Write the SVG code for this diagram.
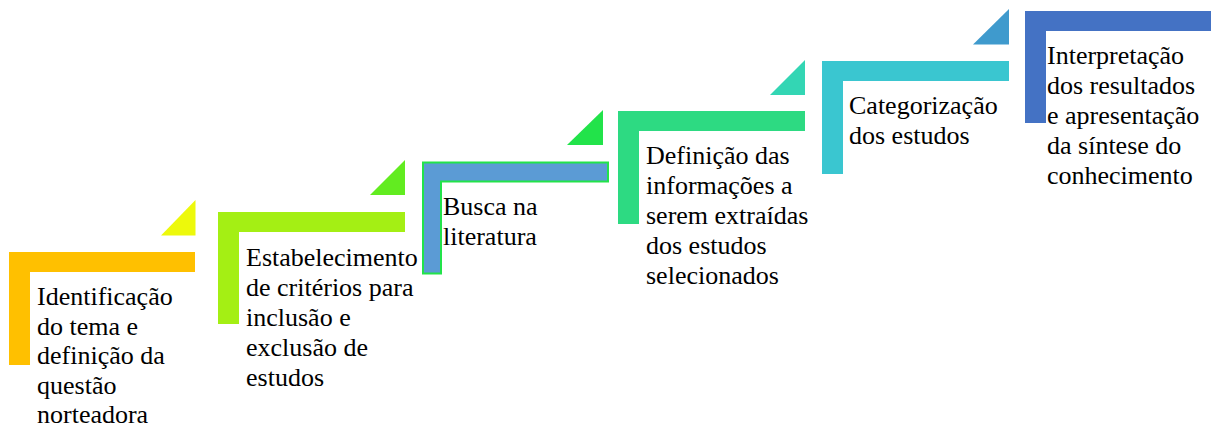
<svg xmlns="http://www.w3.org/2000/svg" width="1211" height="429" viewBox="0 0 1211 429">
<style>
.t { font-family: 'Liberation Serif', 'Times New Roman', Times, 'DejaVu Serif', serif; font-size: 26px; fill: #000; }
</style>
<rect width="1211" height="429" fill="#fff"/>
<g id="step1">
  <path d="M9 252 H195 V272 H30 V365 H9 Z" fill="#FFC000"/>
  <path d="M161 235.5 L195.5 200 V235.5 Z" fill="#EDF90B"/>
  <text class="t" font-family="Liberation Serif, serif" x="37" y="305"><tspan x="37">Identificação</tspan><tspan x="37" dy="29.5">do tema e</tspan><tspan x="37" dy="29.5">definição da</tspan><tspan x="37" dy="29.5">questão</tspan><tspan x="37" dy="29.5">norteadora</tspan></text>
</g>
<g id="step2">
  <path d="M218 212 H405 V232 H239 V324 H218 Z" fill="#A4EF14"/>
  <path d="M370 195 L405 160 V195 Z" fill="#62EC20"/>
  <text class="t" font-family="Liberation Serif, serif" x="246" y="266"><tspan x="246">Estabelecimento</tspan><tspan x="246" dy="30">de critérios para</tspan><tspan x="246" dy="30">inclusão e</tspan><tspan x="246" dy="30">exclusão de</tspan><tspan x="246" dy="30">estudos</tspan></text>
</g>
<g id="step3">
  <path d="M423 162.5 H608 V181.5 H441 V273.5 H423 Z" fill="#5B9BD5" stroke="#22E34A" stroke-width="2"/>
  <path d="M567 145 L603 110 V145 Z" fill="#22E34A"/>
  <text class="t" font-family="Liberation Serif, serif" x="443" y="215"><tspan x="443">Busca na</tspan><tspan x="443" dy="30">literatura</tspan></text>
</g>
<g id="step4">
  <path d="M618 111 H805 V131 H639 V224 H618 Z" fill="#2DDA82"/>
  <path d="M770 95 L805 60 V95 Z" fill="#33D6B4"/>
  <text class="t" font-family="Liberation Serif, serif" x="646" y="164"><tspan x="646">Definição das</tspan><tspan x="646" dy="30">informações a</tspan><tspan x="646" dy="30">serem extraídas</tspan><tspan x="646" dy="30">dos estudos</tspan><tspan x="646" dy="30">selecionados</tspan></text>
</g>
<g id="step5">
  <path d="M822 61 H1009 V81 H843 V174 H822 Z" fill="#3AC6D0"/>
  <path d="M973 44.5 L1009 9 V44.5 Z" fill="#3F9ACD"/>
  <text class="t" font-family="Liberation Serif, serif" x="849" y="114"><tspan x="849">Categorização</tspan><tspan x="849" dy="30">dos estudos</tspan></text>
</g>
<g id="step6">
  <path d="M1025 11 H1212 V31 H1046 V123 H1025 Z" fill="#4472C4"/>
  <text class="t" font-family="Liberation Serif, serif" x="1047" y="64"><tspan x="1047">Interpretação</tspan><tspan x="1047" dy="30">dos resultados</tspan><tspan x="1047" dy="30">e apresentação</tspan><tspan x="1047" dy="30">da síntese do</tspan><tspan x="1047" dy="30">conhecimento</tspan></text>
</g>
<g id="connectors"></g>
</svg>
